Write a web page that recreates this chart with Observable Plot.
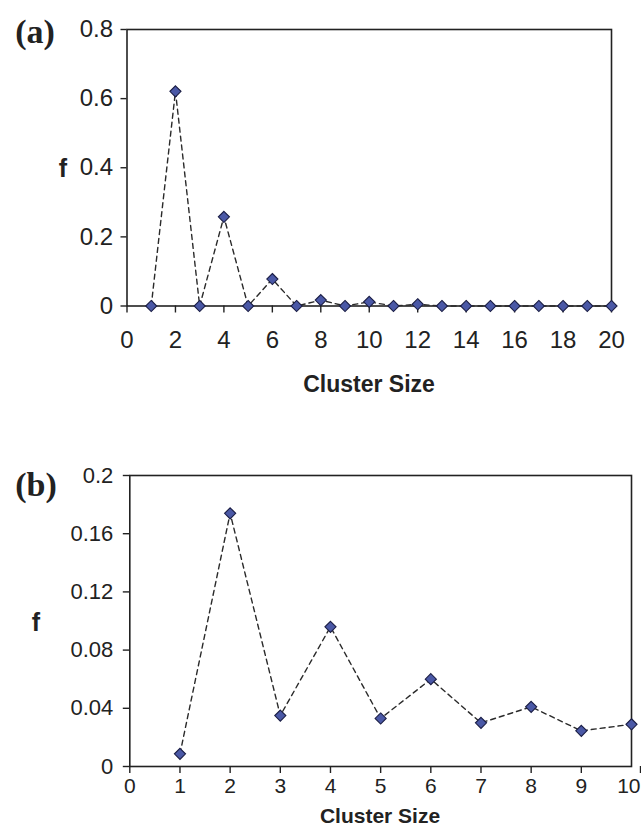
<!DOCTYPE html>
<html>
<head>
<meta charset="utf-8">
<script src="https://cdn.jsdelivr.net/npm/d3@7"></script>
<script src="https://cdn.jsdelivr.net/npm/@observablehq/plot@0.6"></script>
<style>
  html, body { margin: 0; padding: 0; background: #fff; }
  #wrap { position: relative; width: 641px; height: 827px; overflow: hidden; }
  .panel { position: absolute; left: 0; }
  .lbl { position: absolute; transform: translate(-50%, -50%); white-space: nowrap; color: #222; line-height: 1; }
  .tag { font-family: "Liberation Serif", "DejaVu Serif", serif; font-weight: bold; font-size: 34px; }
  .f { font-family: "Liberation Sans", Arial, sans-serif; font-weight: bold; font-size: 25px; }
  .xa { font-family: "Liberation Sans Narrow", "Arial Narrow", "Liberation Sans", sans-serif; font-weight: bold; font-size: 23px; }
  .xb { font-family: "Liberation Sans", Arial, sans-serif; font-weight: bold; font-size: 21px; }
</style>
</head>
<body>
<div id="wrap">
  <div id="pa" class="panel" style="top:0"></div>
  <div id="pb" class="panel" style="top:400px"></div>
  <div class="lbl tag" style="left:35px; top:32px">(a)</div>
  <div class="lbl f" style="left:63px; top:168px">f</div>
  <div class="lbl xa" style="left:369px; top:384px">Cluster Size</div>
  <div class="lbl tag" style="left:36px; top:485px">(b)</div>
  <div class="lbl f" style="left:36px; top:622px">f</div>
  <div class="lbl xb" style="left:380px; top:815px">Cluster Size</div>
</div>
<script>
// Panel (a) data
const clusterSizesA = [1,2,3,4,5,6,7,8,9,10,11,12,13,14,15,16,17,18,19,20];
const freqA = [0,0.621,0,0.258,0,0.078,0,0.017,0,0.012,0,0.005,0,0,0,0,0,0,0,0];
const xTicksA = [0,2,4,6,8,10,12,14,16,18,20];
const yTicksA = [0,0.2,0.4,0.6,0.8];
const yTickLabelsA = ["0","0.2","0.4","0.6","0.8"];

// Panel (b) data
const clusterSizesB = [1,2,3,4,5,6,7,8,9,10];
const freqB = [0.0087,0.174,0.035,0.096,0.033,0.060,0.030,0.041,0.0245,0.029];
const xTicksB = [0,1,2,3,4,5,6,7,8,9,10];
const yTicksB = [0,0.04,0.08,0.12,0.16,0.2];
const yTickLabelsB = ["0","0.04","0.08","0.12","0.16","0.2"];

const tableA = clusterSizesA.map((x, i) => ({x, f: freqA[i]}));
const tableB = clusterSizesB.map((x, i) => ({x, f: freqB[i]}));

const lineStyle = {stroke: "#2a2a2a", strokeWidth: 1.4, strokeDasharray: "5,4"};
const dotStyle = {symbol: "diamond2", r: 5, fill: "#4a58a6", stroke: "#1b1e45", strokeWidth: 1.1};

const plotA = Plot.plot({
  width: 641, height: 400,
  marginTop: 29, marginBottom: 94.5, marginLeft: 126.5, marginRight: 30,
  style: {fontFamily: "'Liberation Sans Narrow', 'Arial Narrow', 'Liberation Sans', sans-serif", fontSize: "24px", color: "#222", background: "transparent"},
  x: {domain: [0, 20]},
  y: {domain: [0, 0.8]},
  marks: [
    Plot.frame({stroke: "#222", strokeWidth: 1.6}),
    Plot.axisX({ticks: xTicksA, tickSize: 7, tickPadding: 18, label: null, tickFormat: d => String(d), strokeWidth: 1.4}),
    Plot.axisY({ticks: yTicksA, tickSize: 6, tickPadding: 8, label: null, tickFormat: (d, i) => yTickLabelsA[i], strokeWidth: 1.4}),
    Plot.line(tableA, {x: "x", y: "f", ...lineStyle}),
    Plot.dot(tableA, {x: "x", y: "f", ...dotStyle})
  ]
});
document.getElementById("pa").appendChild(plotA);

const plotB = Plot.plot({
  width: 641, height: 427,
  marginTop: 75, marginBottom: 61, marginLeft: 129.3, marginRight: 10,
  style: {fontFamily: "'Liberation Sans', Arial, sans-serif", fontSize: "21px", color: "#222", background: "transparent"},
  x: {domain: [0, 10]},
  y: {domain: [0, 0.2]},
  marks: [
    Plot.frame({stroke: "#222", strokeWidth: 1.6}),
    Plot.axisX({ticks: xTicksB.slice(0, -1), tickSize: 7, tickPadding: 5, label: null, tickFormat: d => String(d), strokeWidth: 1.4}),
    Plot.axisX({ticks: xTicksB.slice(-1), tickSize: 7, tickPadding: 5, label: null, tickFormat: d => String(d), strokeWidth: 1.4, textAnchor: "end", dx: 9}),
    Plot.axisY({ticks: yTicksB, tickSize: 6.5, tickPadding: 10, label: null, tickFormat: (d, i) => yTickLabelsB[i], fontSize: 22, strokeWidth: 1.4}),
    Plot.line(tableB, {x: "x", y: "f", ...lineStyle}),
    Plot.dot(tableB, {x: "x", y: "f", ...dotStyle})
  ]
});
document.getElementById("pb").appendChild(plotB);
</script>
</body>
</html>
